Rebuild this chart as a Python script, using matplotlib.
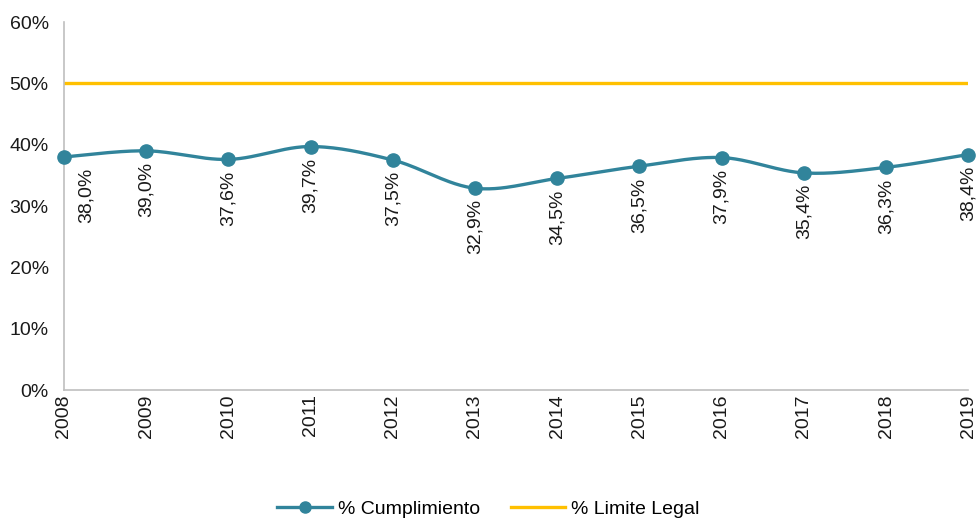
import numpy as np
import matplotlib
matplotlib.use("Agg")
import matplotlib.pyplot as plt
from matplotlib.ticker import FuncFormatter

# datos
anios = [2008, 2009, 2010, 2011, 2012, 2013, 2014, 2015, 2016, 2017, 2018, 2019]
cumplimiento = [38.0, 39.0, 37.6, 39.7, 37.5, 32.9, 34.5, 36.5, 37.9, 35.4, 36.3, 38.4]
limite_legal = [50.0] * len(anios)

AZUL = "#31849B"
AMARILLO = "#FFC000"

plt.rcParams["font.family"] = ["Liberation Sans Narrow", "Liberation Sans", "DejaVu Sans"]


def catmull_rom(x, y, n=30):
    # suavizado parecido al de Excel
    x = np.asarray(x, float)
    y = np.asarray(y, float)
    px = np.concatenate([[x[0]], x, [x[-1]]])
    py = np.concatenate([[y[0]], y, [y[-1]]])
    xs, ys = [], []
    t = np.linspace(0, 1, n)
    for i in range(1, len(px) - 2):
        p0, p1, p2, p3 = px[i - 1], px[i], px[i + 1], px[i + 2]
        q0, q1, q2, q3 = py[i - 1], py[i], py[i + 1], py[i + 2]
        c1x, c1y = p1 + (p2 - p0) / 6, q1 + (q2 - q0) / 6
        c2x, c2y = p2 - (p3 - p1) / 6, q2 - (q3 - q1) / 6
        bx = (1 - t) ** 3 * p1 + 3 * (1 - t) ** 2 * t * c1x + 3 * (1 - t) * t ** 2 * c2x + t ** 3 * p2
        by = (1 - t) ** 3 * q1 + 3 * (1 - t) ** 2 * t * c1y + 3 * (1 - t) * t ** 2 * c2y + t ** 3 * q2
        xs.append(bx)
        ys.append(by)
    return np.concatenate(xs), np.concatenate(ys)


fig = plt.figure(figsize=(9.77, 5.18), dpi=100)
ax = fig.add_axes([0.0655, 0.247, 0.9255, 0.7105])

sx, sy = catmull_rom(anios, cumplimiento)
ax.plot(sx, sy, color=AZUL, lw=2.4, zorder=3, clip_on=False)
ax.plot(anios, cumplimiento, "o", color=AZUL, ms=9.5, zorder=4, clip_on=False)
ax.plot([], [], "-o", color=AZUL, lw=2.4, ms=8, label="% Cumplimiento")
ax.plot(anios, limite_legal, color=AMARILLO, lw=2.4, label="% Limite Legal", zorder=2)

for i, (a, v) in enumerate(zip(anios, cumplimiento)):
    dx = 16 if i == 0 else 0
    ax.annotate(f"{v:.1f}%".replace(".", ","), (a, v), xytext=(dx, -8),
                textcoords="offset points", rotation=90, ha="center", va="top",
                fontsize=14, color="#1a1a1a")

ax.set_xlim(anios[0], anios[-1])
ax.set_ylim(0, 60)
ax.set_yticks(range(0, 61, 10))
ax.yaxis.set_major_formatter(FuncFormatter(lambda v, p: f"{v:.0f}%"))
ax.set_xticks(anios)
ax.set_xticklabels([str(a) for a in anios], rotation=90)
ax.tick_params(length=0, labelsize=14, colors="#1a1a1a")
ax.tick_params(axis="y", pad=11)
ax.tick_params(axis="x", pad=3)
for s in ["top", "right"]:
    ax.spines[s].set_visible(False)
for s in ["left", "bottom"]:
    ax.spines[s].set_color("#BFBFBF")
    ax.spines[s].set_linewidth(1.2)

fig.legend(loc="lower center", bbox_to_anchor=(0.5, -0.033), ncol=2, frameon=False,
           fontsize=14, handlelength=2.8, handletextpad=0.3, columnspacing=1.6)

fig.savefig("out.png", dpi=100)
